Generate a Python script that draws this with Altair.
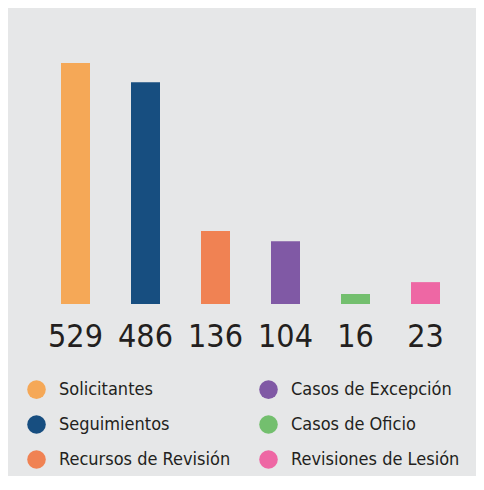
import altair as alt
import pandas as pd

# Categories in bar order (left to right)
categories = ["Solicitantes", "Seguimientos", "Recursos de Revisión",
              "Casos de Excepción", "Casos de Oficio", "Revisiones de Lesión"]
# Printed totals under each bar
labels = [529, 486, 136, 104, 16, 23]
# Bar lengths as drawn in the infographic (same units as the totals)
bar_lengths = [529, 487, 160, 138, 22, 48]
colors = ["#f5a857", "#174e80", "#f08253", "#8059a5", "#73bf6e", "#ee67a4"]

df = pd.DataFrame({"category": categories, "value": bar_lengths,
                   "label": [str(v) for v in labels]})

NUM_FONT = "DejaVu Sans Condensed, Liberation Sans Narrow, sans-serif"
TEXT_COLOR = "#231f20"

x = alt.X("category:N", sort=categories, axis=None,
          scale=alt.Scale(range=[32.5, 452.5], paddingInner=0, paddingOuter=0))
yscale = alt.Scale(domain=[0, 529], range=[296, 55])

bars = alt.Chart(df).mark_bar(size=29).encode(
    x=x,
    y=alt.Y("value:Q", axis=None, scale=yscale),
    color=alt.Color("category:N",
                    scale=alt.Scale(domain=categories, range=colors),
                    legend=alt.Legend(
                        title=None, orient="none", legendX=19, legendY=372,
                        columns=2, symbolType="circle", symbolSize=346,
                        symbolStrokeWidth=0, labelFont=NUM_FONT, labelFontSize=18,
                        labelColor=TEXT_COLOR, labelOffset=13, labelLimit=400,
                        rowPadding=16, columnPadding=28, padding=0)),
)

text = alt.Chart(df).mark_text(
    font=NUM_FONT, fontSize=32, color=TEXT_COLOR, baseline="alphabetic", dy=43
).encode(
    x=x,
    y=alt.Y("zero:Q", axis=None, scale=yscale),
    text="label:N",
).transform_calculate(zero="0")

chart = alt.layer(bars, text).properties(
    width=468, height=468, padding=0, background="#e6e7e8",
    autosize=alt.AutoSizeParams(type="none")
).configure_view(stroke=None)

chart.save("out.html", embed_options={"renderer": "svg", "actions": False})
